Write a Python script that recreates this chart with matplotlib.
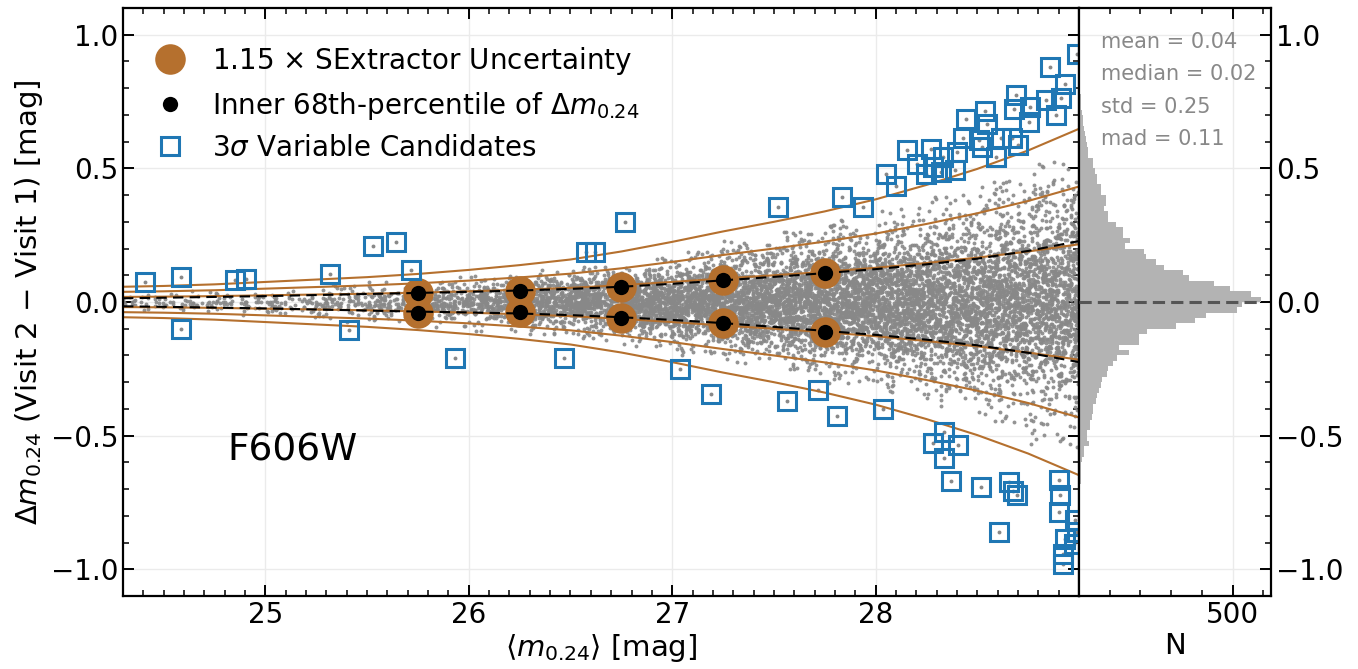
import matplotlib.pyplot as plt
import numpy as np
from matplotlib.ticker import MultipleLocator, FixedLocator

# ---- values ----

# 1.15 x SExtractor uncertainty (1 sigma), read every 0.25 mag
curve_mag = [24.3, 24.5, 24.75, 25.0, 25.25, 25.5, 25.75, 26.0, 26.25, 26.5,
             26.75, 27.0, 27.25, 27.5, 27.75, 28.0, 28.25, 28.5, 28.75, 29.0]
sigma_1 = [0.019, 0.020, 0.022, 0.025, 0.028, 0.031, 0.035, 0.040, 0.046, 0.053,
           0.063, 0.075, 0.088, 0.100, 0.113, 0.128, 0.146, 0.166, 0.189, 0.216]
sigma_levels = [1, 2, 3]

# dashed fits through the inner 68th-percentile points
p68_upper = [0.014, 0.016, 0.019, 0.022, 0.026, 0.030, 0.034, 0.038, 0.043, 0.049,
             0.057, 0.068, 0.081, 0.094, 0.108, 0.123, 0.141, 0.162, 0.191, 0.228]
p68_lower = [-0.016, -0.018, -0.021, -0.024, -0.028, -0.032, -0.036, -0.039, -0.043, -0.049,
             -0.057, -0.067, -0.079, -0.093, -0.108, -0.123, -0.141, -0.162, -0.190, -0.225]

# binned points
bin_mag = [25.75, 26.25, 26.75, 27.25, 27.75]
bin_upper = [0.033, 0.041, 0.055, 0.084, 0.109]
bin_lower = [-0.040, -0.038, -0.058, -0.080, -0.111]

# 3 sigma variable candidates
var_mag = [24.41, 24.585, 24.585, 24.85, 24.907, 25.32, 25.53, 25.64, 25.715, 25.41,
           25.93, 26.47, 26.575, 26.62, 26.77, 27.04, 27.52, 27.835, 27.94, 28.05,
           28.10, 27.19, 27.565, 27.715, 27.81, 28.035,
           28.155, 28.205, 28.25, 28.27, 28.28, 28.32, 28.33, 28.39, 28.40, 28.445,
           28.43, 28.54, 28.55, 28.51, 28.525, 28.59, 28.615, 28.67, 28.69, 28.68,
           28.70, 28.76, 28.755, 28.84, 28.885, 28.855, 28.93, 28.91, 28.99,
           28.335, 28.28, 28.405, 28.335, 28.37, 28.52, 28.655, 28.695, 28.675, 28.605,
           28.90, 28.905, 28.90, 28.98, 28.93, 28.975, 28.92, 28.92, 28.99]
var_dm = [0.075, 0.094, -0.100, 0.084, 0.085, 0.106, 0.210, 0.225, 0.119, -0.106,
          -0.209, -0.210, 0.188, 0.188, 0.300, -0.250, 0.354, 0.394, 0.356, 0.479,
          0.435, -0.344, -0.369, -0.328, -0.425, -0.400,
          0.569, 0.516, 0.478, 0.571, 0.506, 0.487, 0.544, 0.494, 0.562, 0.685,
          0.613, 0.716, 0.665, 0.606, 0.581, 0.544, 0.613, 0.613, 0.775, 0.721,
          0.588, 0.731, 0.675, 0.756, 0.700, 0.881, 0.815, 0.763, 0.929,
          -0.487, -0.529, -0.535, -0.584, -0.671, -0.691, -0.672, -0.721, -0.706, -0.860,
          -0.666, -0.722, -0.785, -0.816, -0.887, -0.906, -0.943, -0.981, -0.862]

# histogram of delta m: lower bin edge -0.92, bin width 0.02
hist_start = -0.92
hist_width = 0.02
hist_counts = [1, 1, 1, 1, 1, 1, 2, 1, 2, 2,
               2, 3, 5, 7, 7, 7, 11, 17, 17, 33,
               25, 25, 36, 36, 41, 47, 47, 54, 58, 65,
               72, 74, 91, 94, 112, 123, 163, 129, 196, 196,
               221, 316, 379, 414, 515, 532,
               594, 561, 490, 440, 357, 340, 278, 250, 218, 212,
               150, 167, 143, 143, 121, 94, 94, 80, 87, 87,
               71, 71, 58, 58, 52, 47, 47, 30, 30, 25,
               22, 18, 15, 12, 12, 9, 8, 6, 5, 4,
               2, 1, 1]

# background cloud: the single dots cannot be read, so only their
# number and spread per magnitude bin are taken from the picture
cloud_edges = [24.3, 24.5, 24.75, 25.0, 25.25, 25.5, 25.75, 26.0, 26.25, 26.5,
               26.75, 27.0, 27.25, 27.5, 27.75, 28.0, 28.25, 28.5, 28.75, 29.0]
cloud_count = [25, 35, 45, 60, 85, 130, 200, 300, 400, 520,
               640, 760, 860, 920, 960, 1000, 1030, 1060, 1060]
cloud_spread = [0.014, 0.016, 0.019, 0.022, 0.026, 0.030, 0.034, 0.039, 0.044, 0.050,
                0.058, 0.068, 0.080, 0.093, 0.106, 0.121, 0.139, 0.160, 0.188]

mag_ticks = [25, 26, 27, 28]
stats_text = ["mean = 0.04", "median = 0.02", "std = 0.25", "mad = 0.11"]

brown = "#b5702e"
blue = "#1f77b4"

rng = np.random.default_rng(7)
cx, cy = [], []
for i in range(len(cloud_count)):
    n = cloud_count[i]
    s = cloud_spread[i]
    x = rng.uniform(cloud_edges[i], cloud_edges[i + 1], n)
    wide = rng.random(n) < 0.2
    y = rng.normal(0.0, s, n) * np.where(wide, 1.9, 1.0)
    keep = np.abs(y) < 2.9 * s
    cx.append(x[keep])
    cy.append(y[keep])
cx = np.concatenate(cx)
cy = np.concatenate(cy)

fig = plt.figure(figsize=(13.58, 6.69), dpi=100)
ax = fig.add_axes([123 / 1358, 73 / 669, 956 / 1358, 588 / 669])
axh = fig.add_axes([1079 / 1358, 73 / 669, 192 / 1358, 588 / 669], sharey=ax)

ax.plot(cx, cy, 'o', color='#888888', ms=2.8, mew=0, alpha=0.9, zorder=1)
ax.plot(var_mag, var_dm, 'o', color='#888888', ms=2.8, mew=0, zorder=1)

for k in sigma_levels:
    ax.plot(curve_mag, k * np.array(sigma_1), color=brown, lw=1.5, zorder=2)
    ax.plot(curve_mag, -k * np.array(sigma_1), color=brown, lw=1.5, zorder=2)

h1, = ax.plot(bin_mag, bin_upper, 'o', color=brown, ms=22, mew=0, zorder=3,
              label=r"1.15 $\times$ SExtractor Uncertainty")
ax.plot(bin_mag, bin_lower, 'o', color=brown, ms=22, mew=0, zorder=3)
h2, = ax.plot(bin_mag, bin_upper, 'o', color='black', ms=11, mew=0, zorder=4,
              label=r"Inner 68th-percentile of $\Delta m_{0.24}$")
ax.plot(bin_mag, bin_lower, 'o', color='black', ms=11, mew=0, zorder=4)
ax.plot(curve_mag, p68_upper, '--', color='black', lw=1.5, dashes=(5, 3), zorder=5)
ax.plot(curve_mag, p68_lower, '--', color='black', lw=1.5, dashes=(5, 3), zorder=5)

h3, = ax.plot(var_mag, var_dm, 's', mfc='none', mec=blue, ms=13, mew=2.2, zorder=6,
              label=r"3$\sigma$ Variable Candidates")

ax.legend(handles=[h1, h2, h3], loc='upper left', frameon=False, fontsize=20,
          borderaxespad=0.3, handletextpad=0.5, labelspacing=0.45,
          bbox_to_anchor=(0.0, 0.97))

ax.text(24.815, -0.555, "F606W", fontsize=27, ha='left', va='center')

ax.set_xlim(24.3, 29.0)
ax.set_ylim(-1.1, 1.1)
ax.xaxis.set_major_locator(FixedLocator(mag_ticks))
ax.xaxis.set_minor_locator(MultipleLocator(0.1))
ax.yaxis.set_major_locator(MultipleLocator(0.5))
ax.yaxis.set_minor_locator(MultipleLocator(0.1))
ax.set_xlabel(r"$\langle m_{0.24}\rangle$ [mag]", fontsize=21, labelpad=2)
ax.set_ylabel(r"$\Delta m_{0.24}$ (Visit 2 $-$ Visit 1) [mag]", fontsize=21, labelpad=4)

# histogram panel
lo = hist_start + hist_width * np.arange(len(hist_counts))
axh.barh(lo, hist_counts, height=hist_width, align='edge', color='#b3b3b3', lw=0, zorder=1)
axh.plot([0, max(hist_counts)], [0, 0], '--', color='#555555', lw=2.2, dashes=(4, 2), zorder=3)
axh.set_xlim(0, 625)
axh.xaxis.set_major_locator(FixedLocator([500]))
axh.xaxis.set_minor_locator(MultipleLocator(100))
axh.set_xlabel("N", fontsize=21, labelpad=2)
for i, t in enumerate(stats_text):
    axh.text(0.115, 0.943 - 0.0555 * i, t, transform=axh.transAxes, fontsize=15,
             color='#888888', ha='left', va='center')

for a in (ax, axh):
    a.set_axisbelow(True)
    a.grid(True, which='major', color='#ebebeb', lw=1)
    a.tick_params(which='both', direction='in', top=True, labelsize=20, width=1.4)
    a.tick_params(which='major', length=8)
    a.tick_params(which='minor', length=4, width=1.1)
    for sp in a.spines.values():
        sp.set_linewidth(1.6)

ax.tick_params(which='both', right=True)
axh.tick_params(which='both', left=False, right=True, labelleft=False, labelright=True)

fig.savefig("out.png", dpi=100)
